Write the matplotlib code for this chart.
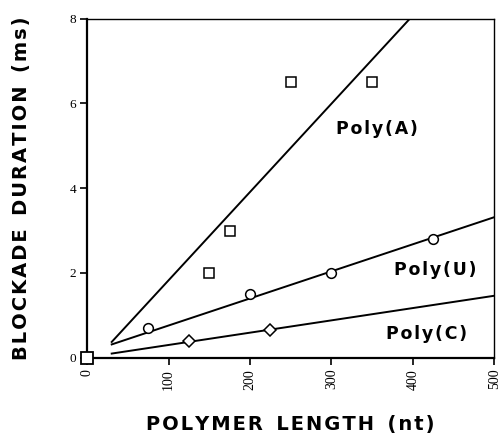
import numpy as np
import matplotlib
matplotlib.use('Agg')
import matplotlib.pyplot as plt

# blockade duration vs polymer length
polyA_len = [0, 150, 175, 250, 350]
polyA_ms = [0, 2.0, 3.0, 6.5, 6.5]
polyU_len = [0, 75, 200, 300, 425]
polyU_ms = [0, 0.7, 1.5, 2.0, 2.8]
polyC_len = [0, 125, 225]
polyC_ms = [0, 0.4, 0.65]

series = [
    ('Poly(A)', polyA_len, polyA_ms, 's', (356, 5.4)),
    ('Poly(U)', polyU_len, polyU_ms, 'o', (427, 2.08)),
    ('Poly(C)', polyC_len, polyC_ms, 'D', (417, 0.56)),
]

xticks = [0, 100, 200, 300, 400, 500]
yticks = [0, 2, 4, 6, 8]

sans = 'DejaVu Sans'
serif = 'Liberation Serif'


def spaced(s, gap='\u200a'):
    # crude letter spacing: hair space between letters, wide gap between words
    return '  '.join(gap.join(w) for w in s.split())


fig = plt.figure(figsize=(4.98, 4.36), dpi=100)
ax = fig.add_axes([0.1753, 0.1795, 0.817, 0.7775])

for name, xs, ys, mk, (lx, ly) in series:
    # least-squares line through the points (incl. origin)
    slope, icpt = np.polyfit(xs, ys, 1)
    xf = np.array([30, 500])
    ax.plot(xf, slope * xf + icpt, color='black', lw=1.4, zorder=2)
    ms = 6.5 if mk == 'D' else 7
    ax.plot(xs[1:], ys[1:], ls='none', marker=mk, ms=ms, mfc='white',
            mec='black', mew=1.1, zorder=3)
    ax.text(lx, ly, spaced(name), ha='center', va='center', fontsize=12.5,
            fontweight='bold', family=sans)

# origin point drawn once, over the axes corner
ax.plot([0], [0], ls='none', marker='s', ms=8.5, mfc='white', mec='black',
        mew=1.3, clip_on=False, zorder=5)

ax.set_xlim(0, 500)
ax.set_ylim(0, 8)
ax.set_xticks(xticks)
ax.set_yticks(yticks)
ax.set_xticklabels([str(v) for v in xticks], rotation=90,
                   family=serif, fontsize=10)
ax.set_yticklabels([str(v) for v in yticks], family=serif, fontsize=9.5)
ax.tick_params(direction='out', length=5, width=1.2, pad=3)

for side in ['left', 'bottom']:
    ax.spines[side].set_linewidth(1.6)
for side in ['top', 'right']:
    ax.spines[side].set_linewidth(1.0)

ax.set_xlabel(spaced('POLYMER LENGTH (nt)'), family=sans, fontweight='bold',
              fontsize=14, labelpad=18)
ax.set_ylabel(spaced('BLOCKADE DURATION (ms)'), family=sans,
              fontweight='bold', fontsize=14, labelpad=28)

fig.savefig('out.png', dpi=100)
